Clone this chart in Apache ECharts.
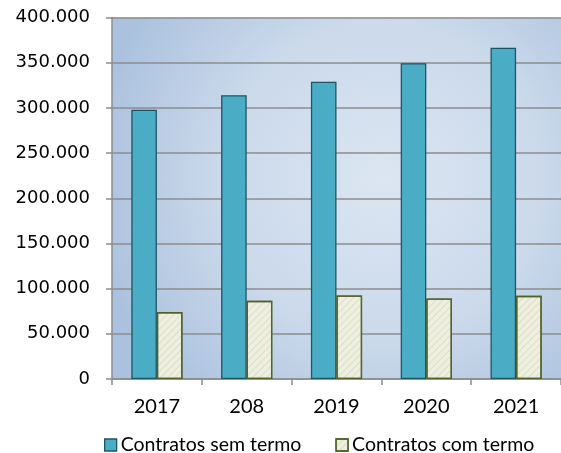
<!DOCTYPE html>
<html><head><meta charset="utf-8">
<script src="https://cdn.jsdelivr.net/npm/echarts@6/dist/echarts.min.js"></script>
<style>html,body{margin:0;padding:0;background:#fff}#c{width:561px;height:453px}</style>
</head><body><div id="c"></div>
<script>
const categories = ['2017', '208', '2019', '2020', '2021'];
const semTermo = [298000, 314000, 329000, 349500, 366500];
const comTermo = [74000, 86500, 92500, 89000, 92000];
const seriesNames = ['Contratos sem termo', 'Contratos com termo'];
const yTicks = {min: 0, max: 400000, interval: 50000};

const chart = echarts.init(document.getElementById('c'), null, {renderer: 'canvas'});
const fmt = v => v === 0 ? '0' : String(v).replace(/\B(?=(\d{3})+(?!\d))/g, '.');
chart.setOption({
  animation: false,
  grid: {
    left: 112, top: 17.5, bottom: 74, right: -4.5, show: true, borderWidth: 0,
    backgroundColor: {type: 'radial', x: 0.6, y: 0.45, r: 0.8,
      colorStops: [{offset: 0, color: '#dce6f2'}, {offset: 0.55, color: '#cbd9eb'}, {offset: 1, color: '#abc2de'}]}
  },
  legend: {
    top: 435, left: 104, padding: 0, itemGap: 34, itemWidth: 12, itemHeight: 12,
    textStyle: {fontFamily: 'Lato', fontSize: 19.5, color: '#000', padding: [0, 0, 0, -1]},
    data: [
      {name: seriesNames[0], icon: 'rect', itemStyle: {color: '#4bacc6', borderColor: '#1f5563', borderWidth: 1.3}},
      {name: seriesNames[1], icon: 'rect', itemStyle: {color: '#eeefdf', borderColor: '#4f6228', borderWidth: 1.3}}
    ]
  },
  xAxis: {
    type: 'category', data: categories,
    axisLine: {lineStyle: {color: '#8c8c8c', width: 1.5}},
    axisTick: {show: true, length: 6, lineStyle: {color: '#8c8c8c', width: 1.5}},
    axisLabel: {fontFamily: 'Lato', fontSize: 20, color: '#000', margin: 18}
  },
  yAxis: {
    type: 'value', min: yTicks.min, max: yTicks.max, interval: yTicks.interval,
    axisLine: {show: true, lineStyle: {color: '#8c8c8c', width: 1.5}},
    axisTick: {show: true, length: 6, lineStyle: {color: '#8c8c8c', width: 1.5}},
    splitLine: {lineStyle: {color: '#8c8c8c', width: 1.5}},
    axisLabel: {fontFamily: 'DejaVu Sans', fontSize: 18, color: '#000', margin: 22, formatter: fmt}
  },
  series: [
    {name: seriesNames[0], type: 'bar', data: semTermo, barGap: '0%', barCategoryGap: '43%',
     itemStyle: {color: '#4bacc6', borderColor: '#1f5563', borderWidth: 1.3}},
    {name: seriesNames[1], type: 'bar', data: comTermo,
     itemStyle: {color: '#eeefdf', borderColor: '#4f6228', borderWidth: 1.3,
       decal: {symbol: 'rect', symbolSize: 1, dashArrayX: [1, 0], dashArrayY: [1, 4], rotation: -Math.PI / 4, color: 'rgba(190,190,160,0.35)'}}}
  ]
});
</script></body></html>
